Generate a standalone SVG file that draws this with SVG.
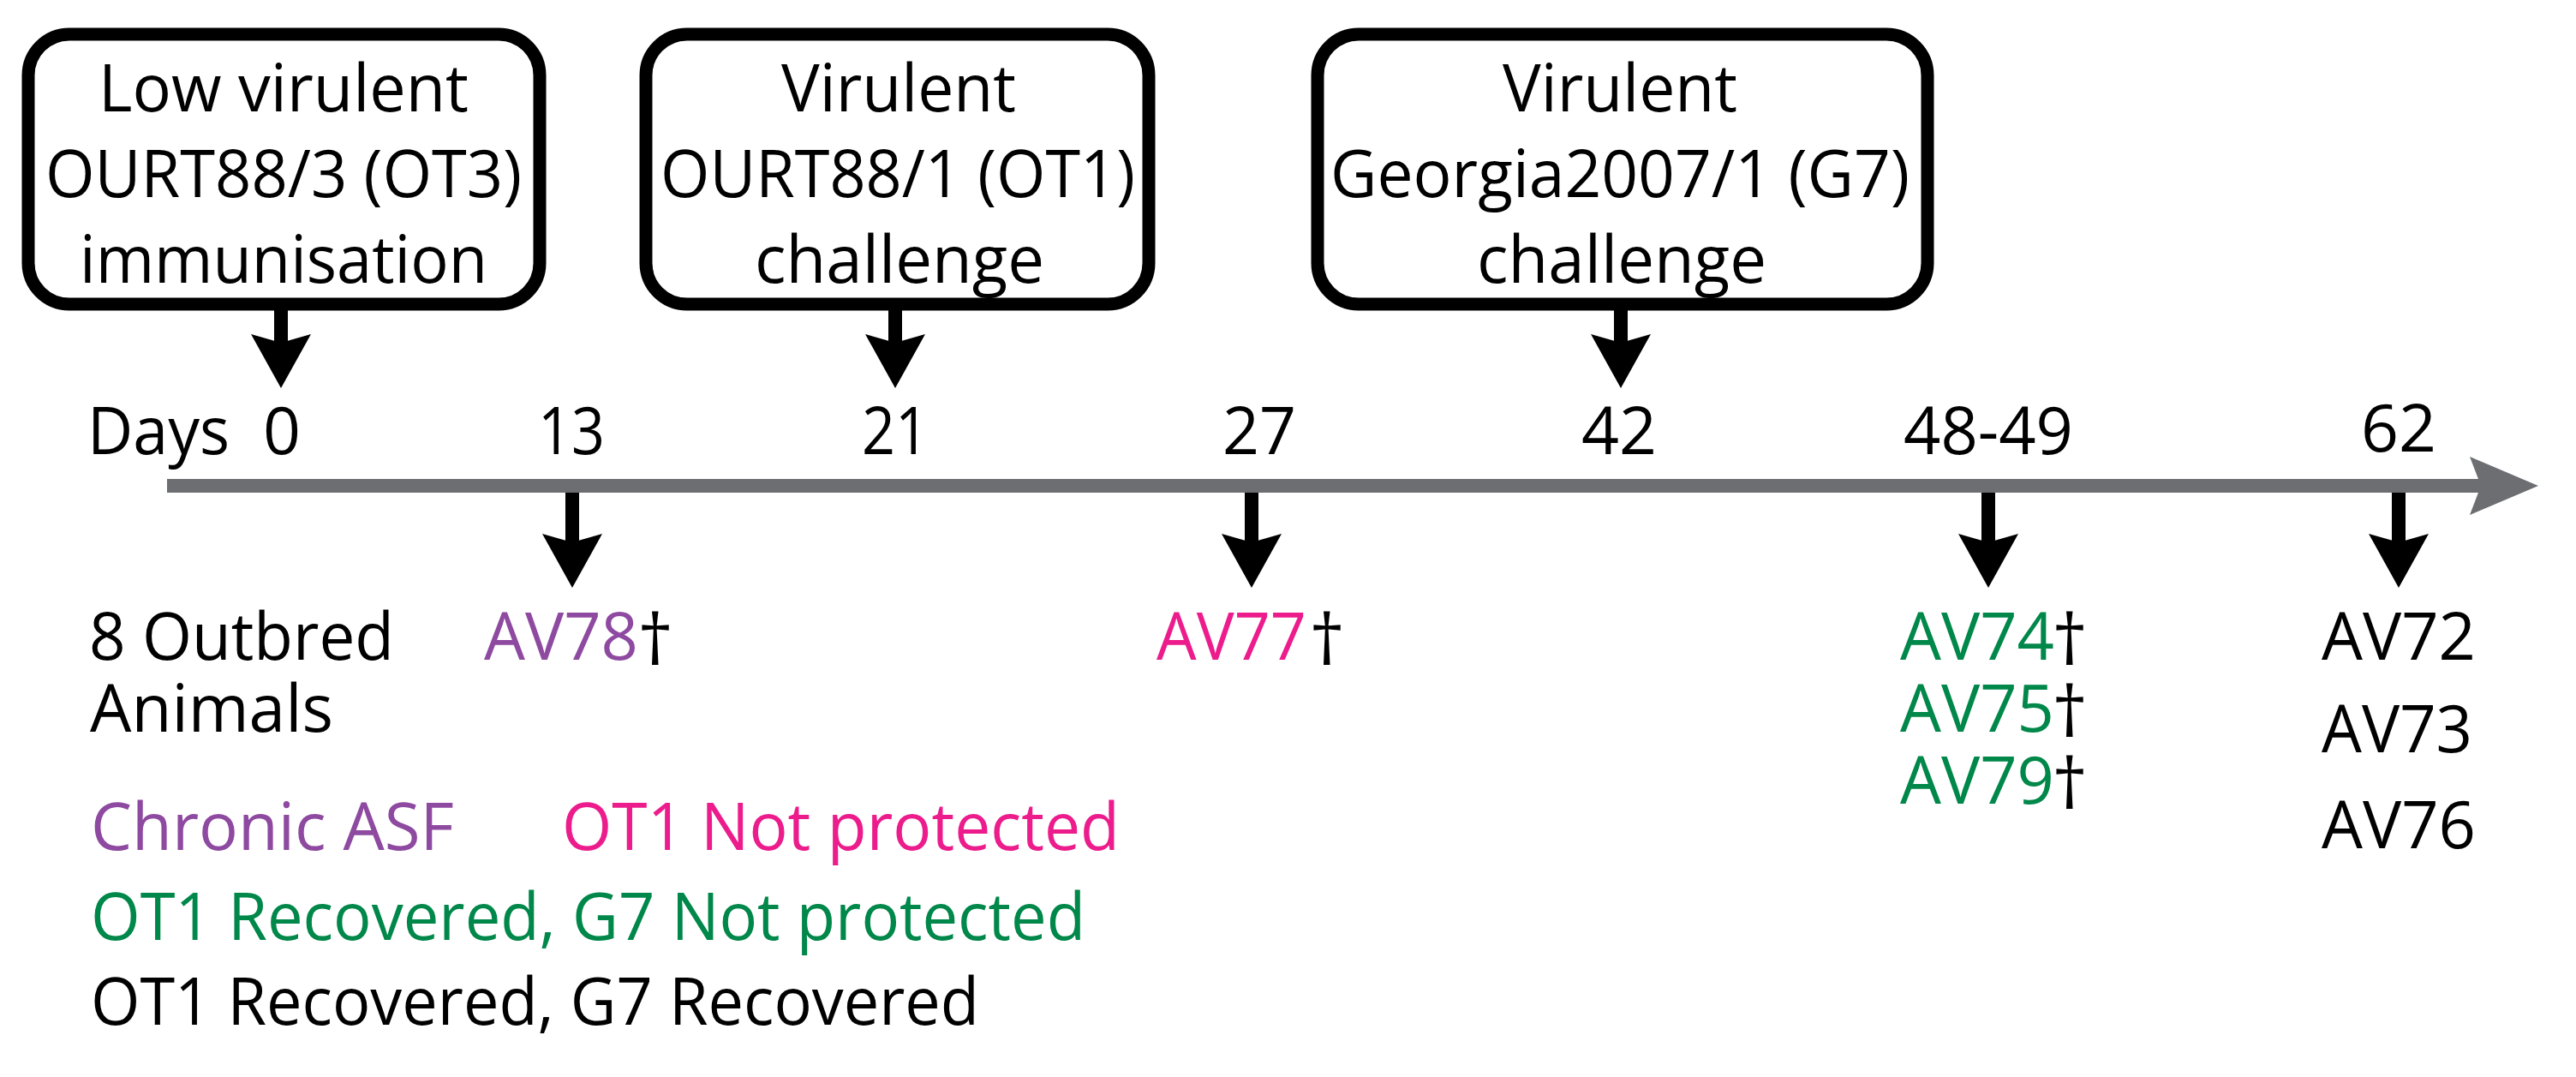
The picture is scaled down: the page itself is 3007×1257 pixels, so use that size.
<svg xmlns="http://www.w3.org/2000/svg" width="3007" height="1257" viewBox="0 0 3007 1257">
<style>
  text { font-family: "Open Sans", "Noto Sans", "Liberation Sans", sans-serif; font-size: 77px; fill: #000; }
  .c { text-anchor: middle; }
  .box { fill: #fff; stroke: #000; stroke-width: 15; }
  .arr { stroke: #000; stroke-width: 16; fill: none; marker-end: url(#ah); }
  .axis { stroke: #6d6e71; stroke-width: 16; fill: none; marker-end: url(#axh); }
  .pur { fill: #8e4aa0; }
  .mag { fill: #ec1c8c; }
  .grn { fill: #00874a; }
  .dag { font-size: 82px; text-anchor: middle; }
</style>
<defs>
  <marker id="ah" markerUnits="userSpaceOnUse" viewBox="0 -36 64 72" refX="10" refY="0" markerWidth="64" markerHeight="72" orient="auto">
    <path d="M0,-35 L63,0 L0,35 L10,0 Z" fill="#000"/>
  </marker>
  <marker id="axh" markerUnits="userSpaceOnUse" viewBox="0 -35 81 70" refX="13" refY="0" markerWidth="81" markerHeight="70" orient="auto">
    <path d="M0,-34 L80,0 L0,34 L13,0 Z" fill="#6d6e71"/>
  </marker>
</defs>

<g id="connectors">
  <line id="timeline" class="axis" x1="195" y1="567" x2="2896" y2="567"/>
  <line class="arr" x1="328" y1="362" x2="328" y2="400"/>
  <line class="arr" x1="1045" y1="362" x2="1045" y2="400"/>
  <line class="arr" x1="1892" y1="362" x2="1892" y2="400"/>
  <line class="arr" x1="668" y1="575" x2="668" y2="633"/>
  <line class="arr" x1="1461" y1="575" x2="1461" y2="633"/>
  <line class="arr" x1="2321" y1="575" x2="2321" y2="633"/>
  <line class="arr" x1="2800" y1="575" x2="2800" y2="633"/>
</g>

<g id="box-ot3">
  <rect class="box" x="33" y="40" width="597" height="315" rx="48" ry="48"/>
  <text class="c" x="331" y="130" textLength="432" lengthAdjust="spacingAndGlyphs">Low virulent</text>
  <text class="c" x="331" y="230" textLength="556" lengthAdjust="spacingAndGlyphs">OURT88/3 (OT3)</text>
  <text class="c" x="331" y="330" textLength="476" lengthAdjust="spacingAndGlyphs">immunisation</text>
</g>

<g id="box-ot1">
  <rect class="box" x="754" y="40" width="587" height="315" rx="48" ry="48"/>
  <text class="c" x="1049" y="130" textLength="274" lengthAdjust="spacingAndGlyphs">Virulent</text>
  <text class="c" x="1048" y="230" textLength="554" lengthAdjust="spacingAndGlyphs">OURT88/1 (OT1)</text>
  <text class="c" x="1050" y="330" textLength="338" lengthAdjust="spacingAndGlyphs">challenge</text>
</g>

<g id="box-g7">
  <rect class="box" x="1538" y="40" width="712" height="315" rx="48" ry="48"/>
  <text class="c" x="1891" y="130" textLength="274" lengthAdjust="spacingAndGlyphs">Virulent</text>
  <text class="c" x="1891" y="230" textLength="676" lengthAdjust="spacingAndGlyphs">Georgia2007/1 (G7)</text>
  <text class="c" x="1893" y="330" textLength="338" lengthAdjust="spacingAndGlyphs">challenge</text>
</g>

<g id="days">
  <text x="102" y="530" textLength="166" lengthAdjust="spacingAndGlyphs">Days</text>
  <text class="c" x="329" y="530">0</text>
  <text class="c" x="667" y="530" textLength="78" lengthAdjust="spacingAndGlyphs">13</text>
  <text class="c" x="1045" y="530" textLength="78" lengthAdjust="spacingAndGlyphs">21</text>
  <text class="c" x="1470" y="530" textLength="86" lengthAdjust="spacingAndGlyphs">27</text>
  <text class="c" x="1890" y="530" textLength="88" lengthAdjust="spacingAndGlyphs">42</text>
  <text class="c" x="2321" y="530" textLength="198" lengthAdjust="spacingAndGlyphs">48-49</text>
  <text class="c" x="2800" y="527" textLength="88" lengthAdjust="spacingAndGlyphs">62</text>
</g>

<g id="animals">
  <text x="104" y="770" textLength="356" lengthAdjust="spacingAndGlyphs">8 Outbred</text>
  <text x="105" y="854" textLength="284" lengthAdjust="spacingAndGlyphs">Animals</text>
</g>

<g id="day13">
  <text class="pur" x="565" y="770" textLength="180" lengthAdjust="spacingAndGlyphs">AV78</text>
  <text class="dag" x="765" y="776">†</text>
</g>

<g id="day27">
  <text class="mag" x="1350" y="770" textLength="175" lengthAdjust="spacingAndGlyphs">AV77</text>
  <text class="dag" x="1549" y="776">†</text>
</g>

<g id="day48">
  <text class="grn" x="2218" y="770" textLength="180" lengthAdjust="spacingAndGlyphs">AV74</text>
  <text class="dag" x="2416" y="776">†</text>
  <text class="grn" x="2218" y="854" textLength="180" lengthAdjust="spacingAndGlyphs">AV75</text>
  <text class="dag" x="2416" y="860">†</text>
  <text class="grn" x="2218" y="938" textLength="180" lengthAdjust="spacingAndGlyphs">AV79</text>
  <text class="dag" x="2416" y="944">†</text>
</g>

<g id="day62">
  <text x="2710" y="770" textLength="180" lengthAdjust="spacingAndGlyphs">AV72</text>
  <text x="2710" y="878" textLength="176" lengthAdjust="spacingAndGlyphs">AV73</text>
  <text x="2710" y="990" textLength="180" lengthAdjust="spacingAndGlyphs">AV76</text>
</g>

<g id="legend">
  <text class="pur" x="106" y="992" textLength="424" lengthAdjust="spacingAndGlyphs">Chronic ASF</text>
  <text class="mag" x="656" y="992" textLength="651" lengthAdjust="spacingAndGlyphs">OT1 Not protected</text>
  <text class="grn" x="106" y="1097" textLength="1161" lengthAdjust="spacingAndGlyphs">OT1 Recovered, G7 Not protected</text>
  <text x="106" y="1196" textLength="1037" lengthAdjust="spacingAndGlyphs">OT1 Recovered, G7 Recovered</text>
</g>
</svg>
